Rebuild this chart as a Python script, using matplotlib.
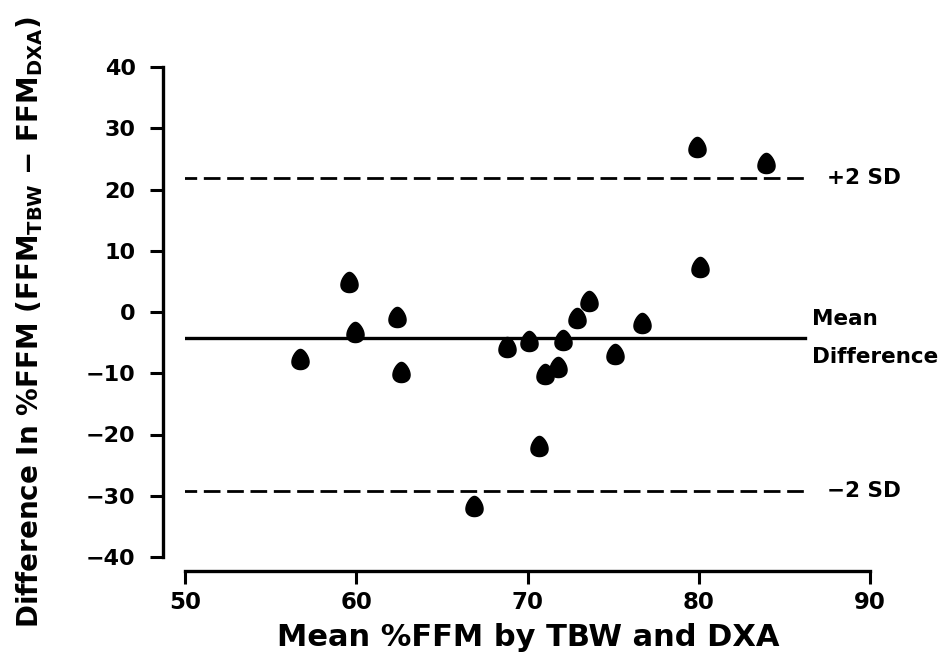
import numpy as np
import matplotlib
matplotlib.use("Agg")
import matplotlib.pyplot as plt
from matplotlib.path import Path

# ---- data ----
mean_ffm = [56.7, 59.6, 59.9, 62.4, 62.6, 66.9, 68.8, 70.1, 70.7, 71.0,
            71.8, 72.1, 72.9, 73.6, 75.1, 76.7, 79.9, 80.1, 83.9]
diff_ffm = [-7.7, 4.9, -3.3, -0.8, -9.8, -31.7, -5.7, -4.7, -21.9, -10.1,
            -9.0, -4.6, -1.0, 1.8, -6.9, -1.8, 27.0, 7.4, 24.3]
mean_diff = -4.2
upper_sd = 21.8
lower_sd = -29.2
line_x = [49.7, 86.2]
x_ticks = [50, 60, 70, 80, 90]
y_ticks = [-40, -30, -20, -10, 0, 10, 20, 30, 40]

plt.rcParams['font.family'] = ['DejaVu Sans']
plt.rcParams['font.weight'] = 'bold'

# egg / drop shaped marker, narrower at the top
t = np.linspace(0, 2 * np.pi, 80)
ex = 0.82 * np.cos(t) * (1 - 0.28 * np.sin(t))
ey = np.sin(t)
drop = Path(np.column_stack([ex, ey]), closed=True)

fig = plt.figure(figsize=(9.48, 6.66), dpi=100)
ax = fig.add_axes([185 / 948, 1 - 557 / 666, 685 / 948, 490 / 666])

ax.plot(line_x, [upper_sd, upper_sd], color='black', lw=2.0, dashes=(6, 2.4))
ax.plot(line_x, [lower_sd, lower_sd], color='black', lw=2.0, dashes=(6, 2.4))
ax.plot(line_x, [mean_diff, mean_diff], color='black', lw=2.4)
ax.plot(mean_ffm, diff_ffm, linestyle='none', marker=drop, markersize=14.5,
        color='black', zorder=5)

ax.set_xlim(50, 90)
ax.set_ylim(-40, 40)
ax.set_xticks(x_ticks)
ax.set_yticks(y_ticks)
ax.set_yticklabels([str(v).replace('-', '\u2212') for v in y_ticks])
ax.spines['top'].set_visible(False)
ax.spines['right'].set_visible(False)
ax.spines['left'].set_position(('outward', 16))
ax.spines['bottom'].set_position(('outward', 10))
ax.spines['left'].set_linewidth(2.4)
ax.spines['bottom'].set_linewidth(2.4)
ax.tick_params(axis='y', direction='out', length=9.5, width=2.2,
               labelsize=16, pad=10)
ax.tick_params(axis='x', direction='out', length=9.5, width=2.2,
               labelsize=16.5, pad=5)
for lab in ax.get_xticklabels() + ax.get_yticklabels():
    lab.set_fontweight('bold')

tk = dict(fontsize=15.5, fontweight='bold', va='center', ha='left')
ax.text(87.5, upper_sd, '+2 SD', **tk)
ax.text(87.5, lower_sd, '\u22122 SD', **tk)
ax.text(86.6, mean_diff + 3.0, 'Mean', **tk)
ax.text(86.6, mean_diff - 3.2, 'Difference', **tk)

fig.text(528 / 948, 1 - 637 / 666, 'Mean %FFM by TBW and DXA', ha='center',
         va='center', fontsize=22, fontweight='bold')
fig.text(30 / 948, 1 - 322 / 666,
         r'Difference In %FFM (FFM$_{\mathbf{TBW}}$ $-$ FFM$_{\mathbf{DXA}}$)',
         rotation=90, ha='center', va='center', fontsize=20, fontweight='bold')

fig.savefig('out.png', dpi=100)
